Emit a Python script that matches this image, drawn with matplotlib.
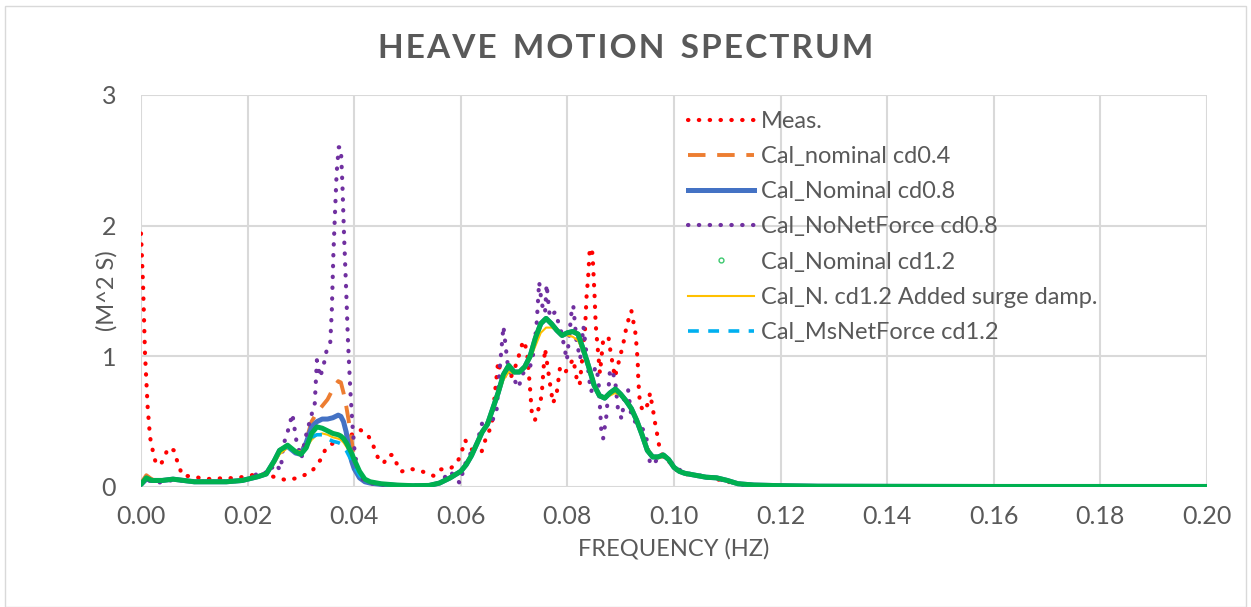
import matplotlib
matplotlib.use('Agg')
import matplotlib.pyplot as plt
from matplotlib.lines import Line2D
from matplotlib.patches import Rectangle

plt.rcParams['font.family'] = ['Lato', 'DejaVu Sans']

# measured spectrum (own frequency grid)
f_meas = [0, 0.0004, 0.00075, 0.00125, 0.0017, 0.0023, 0.0028, 0.0037, 0.0044, 0.0051,
          0.0062, 0.0067, 0.0072, 0.0079, 0.0096, 0.0113, 0.0135, 0.0158, 0.0176, 0.0195,
          0.022, 0.024, 0.0258, 0.0273, 0.029, 0.0306, 0.032, 0.0339, 0.0347, 0.037,
          0.0395, 0.041, 0.0423, 0.0433, 0.0439, 0.0444, 0.0455, 0.0464, 0.0473, 0.0477,
          0.0488, 0.0503, 0.0519, 0.0534, 0.055, 0.0563, 0.058, 0.0592, 0.06, 0.0608,
          0.0617, 0.0623, 0.0639, 0.0648, 0.0658, 0.067, 0.0675, 0.0692, 0.0705, 0.0717,
          0.0724, 0.073, 0.0733, 0.0739, 0.0749, 0.0752, 0.0758, 0.0767, 0.0773, 0.078,
          0.0786, 0.0795, 0.0811, 0.0817, 0.0823, 0.0833, 0.0836, 0.0839, 0.0842, 0.0847,
          0.0849, 0.0851, 0.0853, 0.0855, 0.0861, 0.0867, 0.0877, 0.088, 0.0889, 0.0899,
          0.0905, 0.0911, 0.0916, 0.092, 0.0923, 0.0927, 0.093, 0.0932, 0.0933, 0.0936,
          0.0942, 0.0952, 0.0955, 0.0961, 0.0964, 0.0967, 0.097, 0.0974, 0.098, 0.099,
          0.100, 0.102, 0.105, 0.108, 0.110, 0.113, 0.116, 0.12, 0.14, 0.20]
meas = [1.94, 1.53, 1.02, 0.61, 0.38, 0.26, 0.18, 0.17, 0.23, 0.30,
        0.28, 0.21, 0.145, 0.084, 0.084, 0.066, 0.06, 0.07, 0.066, 0.08,
        0.10, 0.09, 0.066, 0.053, 0.066, 0.09, 0.117, 0.22, 0.30, 0.36,
        0.40, 0.44, 0.41, 0.35, 0.28, 0.23, 0.18, 0.245, 0.245, 0.20,
        0.117, 0.14, 0.13, 0.11, 0.084, 0.135, 0.14, 0.18, 0.245, 0.36,
        0.30, 0.28, 0.27, 0.385, 0.47, 0.96, 0.87, 0.82, 0.95, 1.12,
        1.05, 0.75, 0.58, 0.51, 0.64, 0.72, 1.06, 0.80, 0.64, 0.72,
        0.91, 0.87, 0.98, 0.84, 0.78, 1.20, 1.46, 1.61, 1.83, 1.79,
        1.63, 1.46, 1.25, 1.15, 0.87, 1.12, 1.15, 1.06, 0.84, 1.00,
        1.10, 1.23, 1.30, 1.35, 1.28, 1.20, 1.07, 0.95, 0.82, 0.64,
        0.58, 0.64, 0.72, 0.58, 0.50, 0.44, 0.36, 0.28, 0.23, 0.20,
        0.14, 0.10, 0.08, 0.06, 0.04, 0.02, 0.01, 0.005, 0.004, 0.004]

# calculated spectra (shared frequency grid)
f_cal = [0, 0.001, 0.002, 0.004, 0.006, 0.008, 0.010, 0.013, 0.016, 0.019,
         0.021, 0.022, 0.0235, 0.025, 0.026, 0.0275, 0.029, 0.030, 0.031, 0.032,
         0.033, 0.034, 0.035, 0.036, 0.037, 0.0375, 0.038, 0.0385, 0.039, 0.0395,
         0.040, 0.041, 0.042, 0.043, 0.045, 0.048, 0.051, 0.054, 0.056, 0.058,
         0.060, 0.061, 0.062, 0.063, 0.064, 0.065, 0.066, 0.067, 0.068, 0.069,
         0.070, 0.071, 0.072, 0.073, 0.074, 0.075, 0.076, 0.077, 0.078, 0.079,
         0.080, 0.081, 0.082, 0.083, 0.084, 0.085, 0.086, 0.087, 0.088, 0.089,
         0.090, 0.091, 0.092, 0.093, 0.094, 0.095, 0.096, 0.097, 0.098, 0.099,
         0.100, 0.101, 0.102, 0.104, 0.106, 0.108, 0.110, 0.112, 0.115, 0.120,
         0.127, 0.14, 0.16, 0.18, 0.20]

nominal_cd04 = [0.03, 0.09, 0.06, 0.05, 0.06, 0.05, 0.04, 0.04, 0.04, 0.05,
                0.07, 0.08, 0.10, 0.20, 0.28, 0.31, 0.27, 0.26, 0.36, 0.50,
                0.57, 0.62, 0.67, 0.75, 0.81, 0.80, 0.72, 0.62, 0.50, 0.36,
                0.22, 0.10, 0.05, 0.03, 0.02, 0.012, 0.008, 0.01, 0.03, 0.07,
                0.12, 0.17, 0.24, 0.33, 0.42, 0.48, 0.60, 0.72, 0.86, 0.93,
                0.88, 0.88, 0.92, 1.00, 1.14, 1.25, 1.29, 1.25, 1.20, 1.16,
                1.18, 1.19, 1.17, 1.05, 0.92, 0.78, 0.70, 0.68, 0.72, 0.75,
                0.71, 0.66, 0.60, 0.51, 0.40, 0.28, 0.23, 0.23, 0.245, 0.21,
                0.15, 0.12, 0.105, 0.09, 0.075, 0.07, 0.05, 0.025, 0.015, 0.01,
                0.006, 0.005, 0.004, 0.004, 0.004]
nominal_cd08 = [0.02, 0.06, 0.05, 0.05, 0.06, 0.05, 0.04, 0.04, 0.04, 0.05,
                0.07, 0.08, 0.10, 0.20, 0.28, 0.31, 0.26, 0.25, 0.34, 0.46,
                0.50, 0.52, 0.52, 0.53, 0.55, 0.54, 0.50, 0.42, 0.30, 0.20,
                0.14, 0.07, 0.04, 0.03, 0.02, 0.012, 0.008, 0.01, 0.03, 0.07,
                0.12, 0.17, 0.24, 0.33, 0.42, 0.48, 0.60, 0.72, 0.86, 0.93,
                0.88, 0.88, 0.92, 1.00, 1.14, 1.25, 1.29, 1.25, 1.20, 1.16,
                1.18, 1.19, 1.17, 1.05, 0.92, 0.78, 0.70, 0.68, 0.72, 0.75,
                0.71, 0.66, 0.60, 0.51, 0.40, 0.28, 0.23, 0.23, 0.245, 0.21,
                0.15, 0.12, 0.105, 0.09, 0.075, 0.07, 0.05, 0.025, 0.015, 0.01,
                0.006, 0.005, 0.004, 0.004, 0.004]
nominal_cd12 = [0.02, 0.07, 0.05, 0.05, 0.06, 0.05, 0.04, 0.04, 0.04, 0.05,
                0.07, 0.08, 0.10, 0.20, 0.28, 0.32, 0.27, 0.25, 0.30, 0.41,
                0.46, 0.45, 0.43, 0.41, 0.40, 0.39, 0.37, 0.34, 0.30, 0.26,
                0.21, 0.12, 0.06, 0.04, 0.025, 0.015, 0.01, 0.012, 0.03, 0.07,
                0.12, 0.17, 0.24, 0.33, 0.42, 0.48, 0.60, 0.72, 0.86, 0.93,
                0.88, 0.88, 0.92, 1.00, 1.14, 1.25, 1.29, 1.25, 1.20, 1.16,
                1.18, 1.19, 1.17, 1.05, 0.92, 0.78, 0.70, 0.68, 0.72, 0.75,
                0.71, 0.66, 0.60, 0.51, 0.40, 0.28, 0.23, 0.23, 0.245, 0.21,
                0.15, 0.12, 0.105, 0.09, 0.075, 0.07, 0.05, 0.025, 0.015, 0.01,
                0.006, 0.005, 0.004, 0.004, 0.004]
surge_damp_cd12 = [0.02, 0.06, 0.05, 0.05, 0.06, 0.05, 0.04, 0.04, 0.04, 0.05,
                   0.07, 0.08, 0.10, 0.18, 0.25, 0.30, 0.28, 0.27, 0.30, 0.36,
                   0.40, 0.41, 0.40, 0.38, 0.37, 0.36, 0.34, 0.31, 0.28, 0.24,
                   0.19, 0.11, 0.06, 0.04, 0.025, 0.015, 0.01, 0.012, 0.03, 0.07,
                   0.12, 0.17, 0.24, 0.33, 0.42, 0.50, 0.60, 0.70, 0.82, 0.88,
                   0.87, 0.88, 0.92, 0.98, 1.08, 1.18, 1.22, 1.22, 1.20, 1.17,
                   1.16, 1.15, 1.12, 1.03, 0.90, 0.76, 0.70, 0.69, 0.70, 0.72,
                   0.70, 0.66, 0.61, 0.53, 0.42, 0.30, 0.24, 0.22, 0.23, 0.21,
                   0.15, 0.12, 0.105, 0.09, 0.075, 0.07, 0.05, 0.025, 0.015, 0.01,
                   0.006, 0.005, 0.004, 0.004, 0.004]
msnet_cd12 = [0.02, 0.07, 0.05, 0.05, 0.06, 0.05, 0.04, 0.04, 0.04, 0.05,
              0.07, 0.08, 0.10, 0.20, 0.28, 0.31, 0.26, 0.25, 0.30, 0.38,
              0.40, 0.40, 0.37, 0.35, 0.34, 0.33, 0.31, 0.28, 0.24, 0.20,
              0.16, 0.09, 0.05, 0.04, 0.025, 0.015, 0.01, 0.012, 0.03, 0.07,
              0.12, 0.17, 0.24, 0.33, 0.42, 0.48, 0.60, 0.72, 0.86, 0.93,
              0.88, 0.88, 0.92, 1.00, 1.14, 1.25, 1.29, 1.25, 1.20, 1.16,
              1.18, 1.19, 1.17, 1.05, 0.92, 0.78, 0.70, 0.68, 0.72, 0.75,
              0.71, 0.66, 0.60, 0.51, 0.40, 0.28, 0.23, 0.23, 0.245, 0.21,
              0.15, 0.12, 0.105, 0.09, 0.075, 0.07, 0.05, 0.025, 0.015, 0.01,
              0.006, 0.005, 0.004, 0.004, 0.004]

# no net force case (own grid, sharp peaks)
f_nonet = [0, 0.001, 0.002, 0.003, 0.005, 0.008, 0.012, 0.016, 0.019, 0.021,
           0.0225, 0.024, 0.025, 0.0262, 0.0267, 0.0275, 0.0284, 0.0292, 0.0301, 0.031,
           0.0317, 0.0326, 0.033, 0.0336, 0.0342, 0.0348, 0.0355, 0.0358, 0.0361, 0.0364,
           0.0367, 0.0371, 0.0375, 0.0378, 0.0381, 0.0385, 0.0388, 0.039, 0.0393, 0.0397,
           0.0401, 0.0406, 0.0414, 0.042, 0.044, 0.048, 0.054, 0.056, 0.058, 0.0598,
           0.0605, 0.0611, 0.063, 0.0642, 0.0655, 0.0667, 0.0674, 0.068, 0.0689, 0.0698,
           0.0708, 0.0717, 0.073, 0.0736, 0.0742, 0.0747, 0.0752, 0.0758, 0.0761, 0.0767,
           0.0777, 0.0789, 0.0799, 0.0808, 0.0811, 0.0817, 0.0824, 0.083, 0.0842, 0.0845,
           0.0852, 0.0858, 0.0864, 0.0867, 0.0873, 0.088, 0.0889, 0.0895, 0.0902, 0.0908,
           0.0914, 0.092, 0.0927, 0.0942, 0.0949, 0.0955, 0.0961, 0.0974, 0.099, 0.1005,
           0.103, 0.106, 0.108, 0.110, 0.112, 0.116, 0.12, 0.14, 0.20]
nonet_cd08 = [0.02, 0.06, 0.04, 0.03, 0.05, 0.05, 0.04, 0.04, 0.05, 0.08,
              0.12, 0.10, 0.18, 0.13, 0.32, 0.42, 0.56, 0.34, 0.22, 0.40,
              0.51, 0.64, 0.97, 0.84, 0.92, 1.04, 1.10, 1.35, 1.79, 2.10,
              2.40, 2.60, 2.60, 2.30, 1.92, 1.50, 1.15, 0.97, 0.72, 0.46,
              0.26, 0.15, 0.07, 0.04, 0.02, 0.01, 0.01, 0.03, 0.12, 0.03,
              0.13, 0.21, 0.33, 0.52, 0.47, 0.58, 0.95, 1.23, 0.90, 0.84,
              0.76, 0.87, 0.92, 1.02, 1.23, 1.57, 1.40, 1.33, 1.55, 1.30,
              1.34, 1.18, 0.97, 1.35, 1.39, 1.12, 0.98, 1.23, 0.79, 0.73,
              0.92, 0.84, 0.40, 0.37, 0.54, 0.90, 0.84, 0.59, 0.52, 0.72,
              0.74, 0.54, 0.50, 0.44, 0.36, 0.18, 0.17, 0.245, 0.21, 0.14,
              0.10, 0.08, 0.06, 0.05, 0.02, 0.01, 0.006, 0.005, 0.004]

x_ticks = [0.00, 0.02, 0.04, 0.06, 0.08, 0.10, 0.12, 0.14, 0.16, 0.18, 0.20]
y_ticks = [0, 1, 2, 3]

grey = '#595959'
c_meas = '#FF0000'
c_orange = '#ED7D31'
c_blue = '#4472C4'
c_purple = '#7030A0'
c_green = '#00B050'
c_yellow = '#FFC000'
c_cyan = '#00B0F0'

dots = (0, (0.1, 2.5))
fig = plt.figure(figsize=(12.51, 6.07), dpi=100)
ax = fig.add_axes([141/1251, 1 - 487/607, 1066/1251, 392/607])

ax.plot(f_meas, meas, color=c_meas, lw=3.0, linestyle=dots, dash_capstyle='round', zorder=2)
ax.plot(f_cal, nominal_cd04, color=c_orange, lw=2.8, linestyle=(0, (4.5, 3.0)), zorder=2)
ax.plot(f_cal, nominal_cd08, color=c_blue, lw=3.6, solid_capstyle='round', zorder=2)
ax.plot(f_nonet, nonet_cd08, color=c_purple, lw=3.0, linestyle=dots, dash_capstyle='round',
        zorder=2)
ax.plot(f_cal, surge_damp_cd12, color=c_yellow, lw=1.5, zorder=2)
ax.plot(f_cal, msnet_cd12, color=c_cyan, lw=2.6, linestyle=(0, (3.0, 2.6)), zorder=2)
ax.plot(f_cal, nominal_cd12, color=c_green, lw=3.6, solid_capstyle='round', zorder=3)

ax.set_xlim(0, 0.20)
ax.set_ylim(0, 3)
ax.set_xticks(x_ticks)
ax.set_xticklabels(['%.2f' % v for v in x_ticks])
ax.set_yticks(y_ticks)
ax.grid(True, color='#D9D9D9', lw=1.5)
ax.set_axisbelow(True)
for s in ax.spines.values():
    s.set_visible(False)
ax.tick_params(axis='both', length=0, labelsize=18, labelcolor=grey)
ax.tick_params(axis='x', pad=13)
ax.tick_params(axis='y', pad=18)

ax.set_xlabel('FREQUENCY (HZ)', fontsize=17, color=grey)
ax.set_ylabel('(M^2 S)', fontsize=17, color=grey)
ax.xaxis.set_label_coords(0.5, -(538 - 487) / 392)
ax.yaxis.set_label_coords((118 - 141) / 1066, 0.5)

title = '  '.join('\u200a'.join(w) for w in ['HEAVE', 'MOTION', 'SPECTRUM'])
fig.text(0.5, 1 - 48/607, title, ha='center', va='center',
         fontsize=24, fontweight='bold', color=grey)

handles = [
    Line2D([], [], color=c_meas, lw=3.0, linestyle=dots, dash_capstyle='round'),
    Line2D([], [], color=c_orange, lw=2.8, linestyle=(0, (4.5, 3.0))),
    Line2D([], [], color=c_blue, lw=3.6),
    Line2D([], [], color=c_purple, lw=3.0, linestyle=dots, dash_capstyle='round'),
    Line2D([], [], color=c_green, lw=0, marker='o', markersize=3.5, markerfacecolor='white',
           markeredgecolor='#3CC86E', markeredgewidth=1.0),
    Line2D([], [], color=c_yellow, lw=1.5),
    Line2D([], [], color=c_cyan, lw=2.6, linestyle=(0, (3.0, 2.6))),
]
labels = ['Meas.', 'Cal_nominal cd0.4', 'Cal_Nominal cd0.8', 'Cal_NoNetForce cd0.8',
          'Cal_Nominal cd1.2', 'Cal_N. cd1.2 Added surge damp.', 'Cal_MsNetForce cd1.2']
leg = fig.legend(handles, labels, loc='upper left', bbox_to_anchor=(688/1251, 1 - 111/607),
                 frameon=False, fontsize=17, handlelength=2.8, handletextpad=0.3,
                 labelspacing=0.6, borderpad=0, borderaxespad=0)
for t in leg.get_texts():
    t.set_color(grey)

fig.patches.append(Rectangle((5/1251, 0), 1 - 10/1251, 1 - 6/607, transform=fig.transFigure,
                             fill=False, edgecolor='#D9D9D9', lw=1.0))

fig.savefig('out.png', dpi=100)
